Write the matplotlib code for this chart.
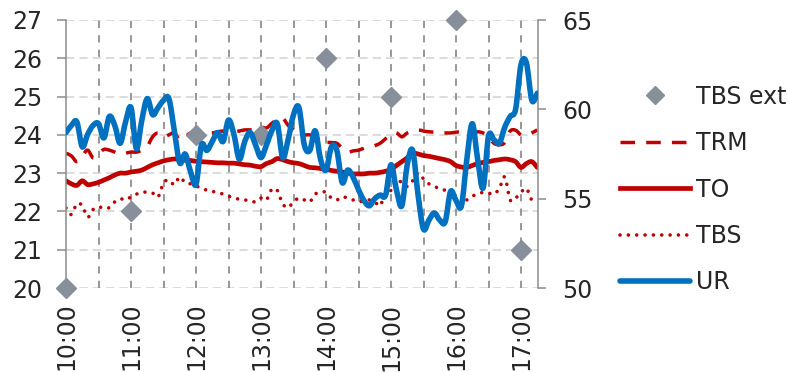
import numpy as np
import matplotlib
matplotlib.use("Agg")
import matplotlib.pyplot as plt
from matplotlib.lines import Line2D
from matplotlib.path import Path
from matplotlib.patches import PathPatch

plt.rcParams['font.family'] = ['DejaVu Sans']
plt.rcParams['lines.scale_dashes'] = False

# Readings every 5 minutes from 10:00 to 17:15
step_minutes = 5
n_samples = 88
hours = 10 + np.arange(n_samples) * step_minutes / 60.0

# Hourly outdoor dry-bulb temperature
ext_hours = [10, 11, 12, 13, 14, 15, 16, 17]
tbs_ext = [20, 22, 24, 24, 26, 25, 27, 21]

trm = [23.52, 23.45, 23.30, 23.45, 23.60, 23.40, 23.50, 23.62, 23.60, 23.55,
       23.50, 23.52, 23.55, 23.55, 23.60, 23.70, 23.95, 24.05, 23.95, 24.00,
       24.05, 23.87, 23.95, 24.05, 24.05, 24.03, 24.05, 24.05, 24.08, 24.10,
       24.08, 24.08, 24.10, 24.13, 24.13, 24.15, 24.20, 24.18, 24.30, 24.40,
       24.44, 24.25, 24.12, 24.05, 24.00, 24.00, 23.95, 23.90, 23.81, 23.80,
       23.78, 23.65, 23.55, 23.58, 23.60, 23.65, 23.68, 23.72, 23.78, 23.90,
       24.00, 24.05, 23.95, 24.05, 24.10, 24.13, 24.10, 24.08, 24.07, 24.05,
       24.05, 24.05, 24.07, 24.08, 24.08, 24.07, 24.08, 24.05, 23.95, 23.78,
       23.74, 23.80, 24.10, 24.12, 24.00, 24.00, 24.05, 24.13]

to = [22.80, 22.72, 22.68, 22.80, 22.70, 22.72, 22.76, 22.82, 22.88, 22.95,
      23.00, 23.00, 23.03, 23.05, 23.08, 23.15, 23.22, 23.27, 23.32, 23.35,
      23.37, 23.36, 23.34, 23.33, 23.31, 23.30, 23.29, 23.28, 23.27, 23.27,
      23.26, 23.26, 23.24, 23.22, 23.21, 23.18, 23.17, 23.25, 23.30, 23.38,
      23.35, 23.30, 23.27, 23.25, 23.20, 23.15, 23.14, 23.12, 23.10, 23.07,
      23.05, 23.03, 23.00, 22.98, 22.98, 22.98, 23.00, 23.00, 23.02, 23.05,
      23.10, 23.20, 23.30, 23.40, 23.52, 23.50, 23.46, 23.44, 23.41, 23.38,
      23.35, 23.30, 23.20, 23.16, 23.15, 23.20, 23.25, 23.28, 23.30, 23.33,
      23.35, 23.37, 23.35, 23.30, 23.15, 23.25, 23.30, 23.15]

tbs = [22.09, 21.92, 22.20, 22.15, 21.85, 22.05, 22.12, 22.08, 22.10, 22.25,
       22.33, 22.30, 22.38, 22.45, 22.50, 22.50, 22.48, 22.38, 22.74, 22.82,
       22.70, 22.90, 22.75, 22.72, 22.66, 22.62, 22.55, 22.52, 22.50, 22.45,
       22.40, 22.35, 22.32, 22.30, 22.28, 22.25, 22.35, 22.30, 22.58, 22.55,
       22.20, 22.10, 22.25, 22.35, 22.30, 22.25, 22.45, 22.50, 22.50, 22.35,
       22.30, 22.38, 22.35, 22.30, 22.25, 22.28, 22.30, 22.25, 22.15, 22.50,
       22.55, 22.82, 22.75, 22.65, 22.80, 23.00, 22.85, 22.72, 22.65, 22.60,
       22.55, 22.45, 22.30, 22.12, 22.30, 22.40, 22.45, 22.50, 22.48, 22.45,
       22.60, 22.90, 22.30, 22.35, 22.50, 22.60, 22.30, 22.30]

ur = [58.7, 59.1, 59.3, 57.9, 58.6, 59.1, 59.2, 58.4, 59.6, 59.1,
      58.1, 59.3, 60.1, 57.8, 59.4, 60.6, 59.7, 60.1, 60.5, 60.6,
      58.8, 57.0, 57.5, 56.5, 55.8, 58.0, 57.7, 58.2, 58.7, 58.2,
      59.4, 58.6, 57.2, 58.2, 58.7, 58.0, 57.3, 58.0, 58.8, 59.2,
      57.3, 58.3, 59.7, 60.1, 58.0, 57.7, 58.8, 57.2, 56.6, 57.9,
      57.7, 55.9, 56.6, 56.2, 55.5, 54.9, 54.6, 55.0, 55.2, 55.2,
      56.9, 55.5, 54.6, 56.9, 57.7, 55.2, 53.3, 53.8, 54.2, 53.8,
      53.7, 55.4, 54.9, 54.6, 57.2, 59.2, 57.2, 55.6, 58.5, 58.3,
      58.1, 59.0, 59.6, 60.0, 62.5, 62.6, 60.5, 60.9]

hour_labels = ["10:00", "11:00", "12:00", "13:00", "14:00", "15:00", "16:00", "17:00"]
left_ticks = [20, 21, 22, 23, 24, 25, 26, 27]
right_ticks = [50, 55, 60, 65]

RED = "#C00000"
BLUE = "#0070C0"
GREY_MARK = "#878F9B"
SPINE = "#8C8C8C"
TEXT = "#262626"
FS = 17


def smooth_path(x, y):
    """Cubic Bezier path through every point (Catmull-Rom tangents)."""
    p = np.column_stack([x, y]).astype(float)
    ext = np.vstack([p[0], p, p[-1]])
    verts = [p[0]]
    codes = [Path.MOVETO]
    for i in range(len(p) - 1):
        p0, p1, p2, p3 = ext[i], ext[i + 1], ext[i + 2], ext[i + 3]
        verts += [p1 + (p2 - p0) / 6.0, p2 - (p3 - p1) / 6.0, p2]
        codes += [Path.CURVE4] * 3
    return Path(verts, codes)


fig = plt.figure(figsize=(7.88, 3.72), dpi=100)
ax = fig.add_axes([66 / 788, 1 - 288 / 372, (538 - 66) / 788, (288 - 20) / 372])
ax.set_xlim(10, 10 + (538 - 66) / 65)
ax.set_ylim(20, 27)

# grid: light horizontal dashes, darker vertical dashes every half hour
for y in left_ticks:
    ax.axhline(y, color="#D9D9D9", lw=1.3, dashes=(6, 3.6), zorder=0.5)
for h in np.arange(10.5, 17.01, 0.5):
    ax.axvline(h, color="#8F8F8F", lw=1.3, dashes=(5.2, 5.2), zorder=0.6)

ax.add_patch(PathPatch(smooth_path(hours, trm), fill=False, edgecolor=RED, lw=2.5,
                       linestyle=(0, (10.5, 8.0)), capstyle="butt", zorder=2))
ax.add_patch(PathPatch(smooth_path(hours, to), fill=False, edgecolor=RED, lw=3.4,
                       joinstyle="round", capstyle="round", zorder=2.1))
ax.add_patch(PathPatch(smooth_path(hours, tbs), fill=False, edgecolor=RED, lw=2.6,
                       linestyle=(0, (0.01, 6.0)), capstyle="round", zorder=2.2))
ax.plot(ext_hours, tbs_ext, ls="none", marker="D", ms=10, color=GREY_MARK,
        mec=GREY_MARK, clip_on=False, zorder=3)

ax.set_yticks(left_ticks)
ax.set_xticks(ext_hours)
ax.set_xticklabels(hour_labels, rotation=90)
ax.tick_params(axis="y", length=6.5, width=1.1, color=SPINE, pad=10.5, labelsize=FS, labelcolor=TEXT)
ax.tick_params(axis="x", length=0, pad=10.5, labelsize=FS, labelcolor=TEXT)
for s in ("top", "right", "bottom"):
    ax.spines[s].set_visible(False)
ax.spines["left"].set_color(SPINE)
ax.spines["left"].set_linewidth(1.1)

ax2 = ax.twinx()
ax2.set_ylim(50, 65)
ax2.set_yticks(right_ticks)
ax2.add_patch(PathPatch(smooth_path(hours, ur), fill=False, edgecolor=BLUE, lw=4.0,
                        joinstyle="round", capstyle="round", zorder=3))
ax2.tick_params(axis="y", length=6, width=1.1, color=SPINE, pad=11.5, labelsize=FS, labelcolor=TEXT)
for s in ("top", "left", "bottom"):
    ax2.spines[s].set_visible(False)
ax2.spines["right"].set_color(SPINE)
ax2.spines["right"].set_linewidth(1.1)

handles = [
    Line2D([], [], ls="none", marker="D", ms=9, color=GREY_MARK),
    Line2D([], [], color=RED, lw=2.5, dashes=(10.5, 8.0)),
    Line2D([], [], color=RED, lw=3.4),
    Line2D([], [], color=RED, lw=2.6, dashes=(0.01, 6.0), dash_capstyle="round"),
    Line2D([], [], color=BLUE, lw=4.0, solid_capstyle="round"),
]
labels = ["TBS ext", "TRM", "TO", "TBS", "UR"]
leg = fig.legend(handles, labels, loc="center left",
                 bbox_to_anchor=(620 / 788, 1 - 189.5 / 372),
                 frameon=False, fontsize=FS, handlelength=2.97, handletextpad=0.25,
                 labelspacing=0.95, borderpad=0, borderaxespad=0, numpoints=1)
for t in leg.get_texts():
    t.set_color(TEXT)

fig.savefig("out.png", dpi=100)
